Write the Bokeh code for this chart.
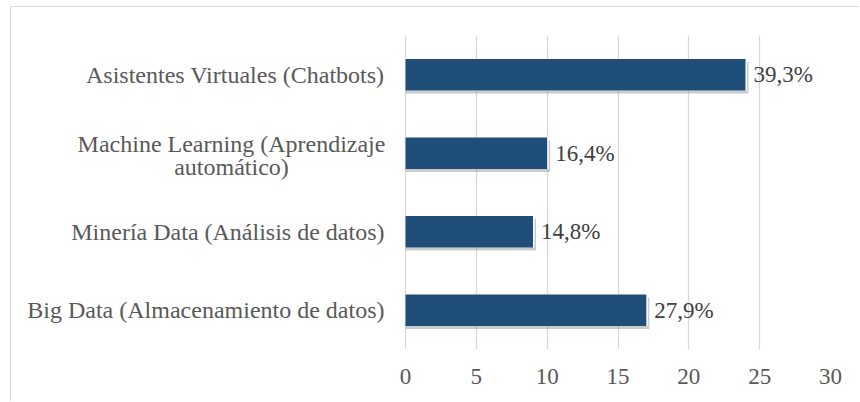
from bokeh.plotting import figure
from bokeh.models import ColumnDataSource, FactorRange, Label
from bokeh.transform import dodge
from bokeh.core.properties import value
from bokeh.embed import file_html
from bokeh.resources import INLINE

# ---- data ----
categories = [
    "Asistentes Virtuales (Chatbots)",
    "Machine Learning (Aprendizaje\nautomático)",
    "Minería Data (Análisis de datos)",
    "Big Data (Almacenamiento de datos)",
]
counts = [24, 10, 9, 17]
percent_labels = ["39,3%", "16,4%", "14,8%", "27,9%"]
x_ticks = [0, 5, 10, 15, 20, 25, 30]

# ---- style ----
FONT = "Liberation Serif"
BAR = "#1F4E79"
TXT = "#595959"
GRID = "#D9D9D9"
W, H = 849, 395
LABEL_AREA, MR, MT, MB = 394, 30, 28, 53   # px reserved left of the value axis zero
X_MAX = 30
px_per_unit = (W - LABEL_AREA - MR) / X_MAX
px_per_cat = (H - MT - MB) / len(categories)
shadow_dx = 3 / px_per_unit
white_dx = 1.5 / px_per_unit
shadow_dy = -3 / px_per_cat

factors = list(reversed(categories))

src = ColumnDataSource(dict(
    cat=categories,
    val=counts,
    lab=percent_labels,
    sh=[v + shadow_dx for v in counts],
    wh=[v + white_dx for v in counts],
))

p = figure(
    width=W, height=H,
    y_range=FactorRange(factors=factors),
    x_range=(-LABEL_AREA / px_per_unit, X_MAX),
    output_backend="svg", toolbar_location=None,
    min_border_left=0, min_border_right=MR, min_border_top=MT, min_border_bottom=MB,
)
p.styles = {"border-left": "1px solid #D9D9D9", "border-top": "1px solid #D9D9D9",
            "margin-left": "10px", "margin-top": "6px"}
p.outline_line_color = None
p.background_fill_color = "white"
p.border_fill_color = "white"

# shadow
p.hbar(y=dodge("cat", shadow_dy, range=p.y_range), left=0, right="sh", height=0.4,
       source=src, fill_color="#8C8C8C", fill_alpha=0.45, line_color=None)
p.hbar(y="cat", left=0, right="wh", height=0.4, source=src,
       fill_color="white", line_color=None)
p.hbar(y="cat", left=0, right="val", height=0.4, source=src,
       fill_color=BAR, line_color=None)

p.text(x="val", y="cat", text="lab", source=src, x_offset=8,
       text_font=value(FONT), text_font_size="23px", text_color="#404040",
       text_align="left", text_baseline="middle")

# grid
p.ygrid.grid_line_color = None
p.xgrid.grid_line_color = GRID
p.xgrid.grid_line_width = 1.3
p.xaxis.ticker = x_ticks

ax = p.xaxis
ax.axis_line_color = None
ax.major_tick_line_color = None
ax.minor_tick_line_color = None
ax.major_tick_out = 0
ax.major_label_text_font = FONT
ax.major_label_text_color = TXT
ax.major_label_text_font_size = "23px"
ax.major_label_standoff = 19

# category labels (drawn as labels so the two-line one can be centred line by line)
p.yaxis.visible = False
STANDOFF = 21
for c in categories:
    y_syn = factors.index(c) + 0.5   # synthetic coordinate of the factor centre
    lines = c.split("\n")
    if len(lines) == 1:
        p.add_layout(Label(x=0, y=y_syn, text=c, x_offset=-STANDOFF,
                           text_align="right", text_baseline="middle",
                           text_font=FONT, text_font_size="24px", text_color=TXT))
    else:
        offsets = [9.6, -13.8]
        for line, dy in zip(lines, offsets):
            p.add_layout(Label(x=0, y=y_syn, text=line, x_offset=-174, y_offset=dy,
                               text_align="center", text_baseline="middle",
                               text_font=FONT, text_font_size="24px", text_color=TXT))

open("out.html", "w").write(file_html(p, INLINE))
